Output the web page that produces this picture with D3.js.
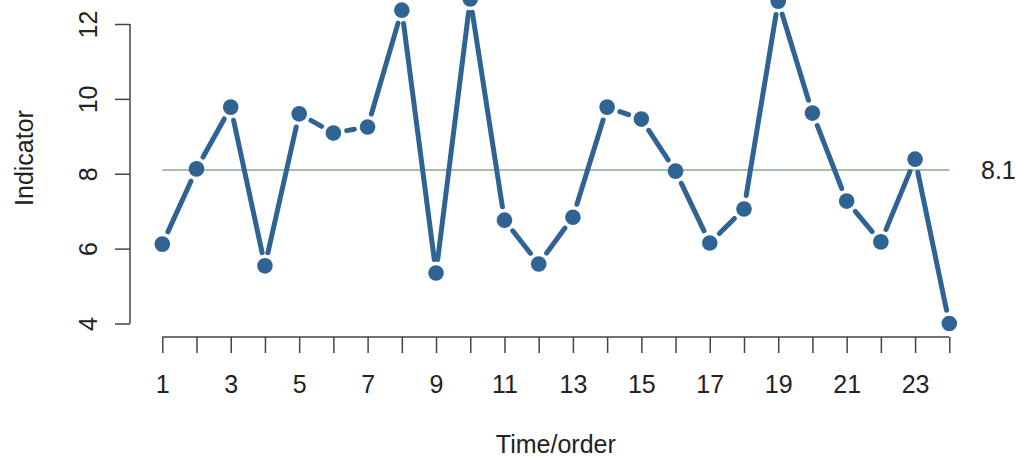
<!DOCTYPE html>
<html>
<head>
<meta charset="utf-8">
<script src="https://cdn.jsdelivr.net/npm/d3@7"></script>
<style>
  html, body { margin: 0; padding: 0; background: #fff; }
  svg { display: block; font-family: "Liberation Sans", Arial, Helvetica, sans-serif; }
</style>
</head>
<body>
<svg id="chart" width="1017" height="459"></svg>
<script>
// Run chart data: observation order and measured indicator
const order = d3.range(1, 25);
const indicator = [6.12, 8.13, 9.78, 5.54, 9.60, 9.09, 9.25, 12.37, 5.35, 12.67,
                   6.76, 5.59, 6.84, 9.78, 9.46, 8.07, 6.15, 7.06, 12.61, 9.62,
                   7.27, 6.18, 8.39, 4.00];
const yTicks = [4, 6, 8, 10, 12];
const centerValue = 8.1;
const xTitle = "Time/order";
const yTitle = "Indicator";

const svg = d3.select("#chart");
const ink = "#222";
const axisCol = "#444";
const pointCol = "#2f6394";
const medianCol = "#86ad86";
const fontSize = "25px";

const x = d3.scaleLinear().domain([1, 24]).range([162.3, 949.3]);
const y = d3.scaleLinear().domain([4, 12]).range([323.5, 24]);

// y axis
const yAxis = svg.append("g")
  .attr("transform", "translate(130,0)")
  .call(d3.axisLeft(y).tickValues(yTicks).tickSize(15).tickSizeOuter(0).tickPadding(0));
yAxis.select(".domain").attr("stroke", axisCol).attr("stroke-width", 1.5)
  .attr("d", `M0,${y(4)}V${y(12)}`);
yAxis.selectAll(".tick line").attr("stroke", axisCol).attr("stroke-width", 1.5);
yAxis.selectAll(".tick text")
  .attr("x", null).attr("dy", null)
  .attr("transform", "translate(-33,0) rotate(-90)")
  .attr("text-anchor", "middle")
  .attr("fill", ink)
  .style("font-size", fontSize);

// x axis
const xAxis = svg.append("g")
  .attr("transform", "translate(0,337)")
  .call(d3.axisBottom(x).tickValues(order).tickSize(16).tickSizeOuter(0)
    .tickFormat(d => d % 2 ? d : ""));
xAxis.select(".domain").attr("stroke", axisCol).attr("stroke-width", 1.5)
  .attr("d", `M${x(1)},0H${x(24)}`);
xAxis.selectAll(".tick line").attr("stroke", axisCol).attr("stroke-width", 1.5);
xAxis.selectAll(".tick text")
  .attr("y", 56).attr("dy", null)
  .attr("fill", ink)
  .style("font-size", fontSize);

// axis titles
svg.append("text")
  .attr("x", (x(1) + x(24)) / 2).attr("y", 453)
  .attr("text-anchor", "middle").attr("fill", ink)
  .style("font-size", fontSize).text(xTitle);
svg.append("text")
  .attr("transform", "translate(33,158) rotate(-90)")
  .attr("text-anchor", "middle").attr("fill", ink)
  .style("font-size", fontSize).text(yTitle);

// centre line and its label
svg.append("line")
  .attr("x1", x(1)).attr("x2", x(24))
  .attr("y1", y(centerValue)).attr("y2", y(centerValue))
  .attr("stroke", medianCol).attr("stroke-width", 1.6);
svg.append("text")
  .attr("x", 981).attr("y", y(centerValue) + 8.5)
  .attr("fill", ink).style("font-size", fontSize)
  .text(centerValue.toFixed(1));

// connecting segments, broken around each point
const gap = 13.5;
const pts = order.map((o, i) => [x(o), y(indicator[i])]);
const segs = [];
for (let i = 0; i < pts.length - 1; i++) {
  const [x0, y0] = pts[i], [x1, y1] = pts[i + 1];
  const dx = x1 - x0, dy = y1 - y0, len = Math.hypot(dx, dy);
  if (len <= 2 * gap + 2) continue;
  const ux = dx / len, uy = dy / len;
  segs.push([x0 + ux * gap, y0 + uy * gap, x1 - ux * gap, y1 - uy * gap]);
}
svg.append("g").selectAll("line").data(segs).join("line")
  .attr("x1", d => d[0]).attr("y1", d => d[1])
  .attr("x2", d => d[2]).attr("y2", d => d[3])
  .attr("stroke", pointCol).attr("stroke-width", 5)
  .attr("stroke-linecap", "round");

// points
svg.append("g").selectAll("circle").data(indicator).join("circle")
  .attr("cx", (d, i) => x(order[i]))
  .attr("cy", d => y(d))
  .attr("r", 7.8)
  .attr("fill", pointCol);
</script>
</body>
</html>
